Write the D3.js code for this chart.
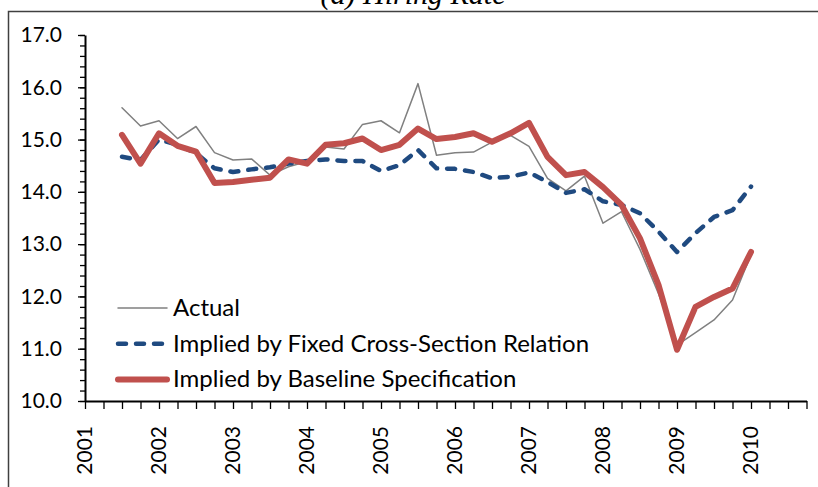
<!DOCTYPE html>
<html>
<head>
<meta charset="utf-8">
<script src="https://cdn.jsdelivr.net/npm/d3@7"></script>
<style>
  body { margin: 0; background: #fff; }
  svg { display: block; }
  .tick text { font-family: Lato, sans-serif; }
</style>
</head>
<body>
<script>
// Hiring rate: actual vs. implied series, quarterly 2001-2010

var years = [2001, 2002, 2003, 2004, 2005, 2006, 2007, 2008, 2009, 2010];
var quarterNames = ["Q1", "Q2", "Q3", "Q4"];
var yTicks = [10.0, 11.0, 12.0, 13.0, 14.0, 15.0, 16.0, 17.0];
var seriesNames = ["Actual", "Implied by Fixed Cross-Section Relation", "Implied by Baseline Specification"];

// first observation is 2001Q3, last is 2010Q1
var firstQuarter = "2001Q3";

var actual = [15.61, 15.26, 15.36, 15.02, 15.25, 14.75, 14.61, 14.63, 14.32, 14.48,
              14.58, 14.86, 14.82, 15.29, 15.36, 15.13, 16.07, 14.70, 14.75, 14.76,
              14.95, 15.08, 14.87, 14.26, 14.02, 14.30, 13.40, 13.62, 12.90, 12.05,
              11.07, 11.31, 11.55, 11.93, 12.80];

var fixedCross = [14.67, 14.61, 15.00, 14.90, 14.74, 14.45, 14.38, 14.43, 14.47, 14.54,
                  14.59, 14.62, 14.59, 14.59, 14.40, 14.51, 14.80, 14.45, 14.44, 14.38,
                  14.26, 14.29, 14.37, 14.19, 13.98, 14.05, 13.82, 13.75, 13.59, 13.24,
                  12.85, 13.21, 13.52, 13.65, 14.10];

var baseline = [15.09, 14.54, 15.12, 14.88, 14.77, 14.17, 14.19, 14.23, 14.27, 14.62,
                14.54, 14.90, 14.93, 15.02, 14.80, 14.90, 15.21, 15.01, 15.05, 15.12,
                14.96, 15.12, 15.32, 14.67, 14.32, 14.38, 14.09, 13.75, 13.11, 12.22,
                10.98, 11.80, 11.99, 12.15, 12.85];

// all quarters on the category axis
var quarters = [];
years.forEach(function(y) {
  quarterNames.forEach(function(q) { quarters.push(y + q); });
});

function toPoints(values) {
  var start = quarters.indexOf(firstQuarter);
  return values.map(function(v, i) { return {q: quarters[start + i], v: v}; });
}

window.onload = function() {
  var width = 818;
  var height = 487;

  var svg = d3.select("body").append("svg")
      .attr("width", width)
      .attr("height", height);

  // chart border, runs off the picture on the right and bottom
  svg.append("rect")
      .attr("x", 8.5)
      .attr("y", 11.5)
      .attr("width", 840)
      .attr("height", 600)
      .attr("fill", "none")
      .attr("stroke", "#404040")
      .attr("stroke-width", 1.5);

  // title, mostly cut off at the top (as in the source picture)
  svg.append("text")
      .attr("x", 413)
      .attr("y", 4)
      .attr("text-anchor", "middle")
      .style("font-family", "'Liberation Serif', serif")
      .style("font-style", "italic")
      .style("font-size", "30px")
      .text("(a) Hiring Rate");

  var xScale = d3.scalePoint()
      .domain(quarters)
      .range([85, 806.5]);

  var yScale = d3.scaleLinear()
      .domain([10, 17])
      .range([401, 35]);

  // minor y ticks every 0.2
  var minorTicks = d3.range(10, 17.01, 0.2);
  svg.append("g")
      .attr("transform", "translate(85, 0)")
      .call(d3.axisLeft(yScale).tickValues(minorTicks).tickSize(5).tickFormat(""))
      .call(function(g) { g.select(".domain").remove(); })
      .selectAll("line").attr("stroke", "#000").attr("stroke-width", 1.3);

  // major y axis
  var yAxis = svg.append("g")
      .attr("transform", "translate(85, 0)")
      .call(d3.axisLeft(yScale).tickValues(yTicks).tickSize(7).tickSizeOuter(0)
            .tickPadding(16).tickFormat(d3.format(".1f")));
  yAxis.select(".domain").attr("stroke-width", 2);
  yAxis.selectAll("line").attr("stroke-width", 1.3);
  yAxis.selectAll("text")
      .style("font-size", "21px")
      .attr("fill", "#000");

  // x axis with a tick per quarter
  var xAxis = svg.append("g")
      .attr("transform", "translate(0, 401)")
      .call(d3.axisBottom(xScale).tickSize(8).tickSizeOuter(0).tickFormat(""));
  xAxis.select(".domain").attr("stroke-width", 2);
  xAxis.selectAll("line").attr("stroke-width", 1.3);

  // year labels, rotated
  svg.selectAll(".yearLabel")
      .data(years)
      .enter()
      .append("text")
      .attr("class", "yearLabel")
      .attr("transform", function(d) {
        return "translate(" + xScale(d + "Q1") + ", 426) rotate(-90)";
      })
      .attr("text-anchor", "end")
      .attr("dy", "0.35em")
      .style("font-family", "Lato, sans-serif")
      .style("font-size", "21px")
      .text(function(d) { return d; });

  var line = d3.line()
      .x(function(d) { return xScale(d.q); })
      .y(function(d) { return yScale(d.v); });

  var styles = [
    {color: "#808080", width: 1.5, dash: null},
    {color: "#1f4a80", width: 4.5, dash: "8,10"},
    {color: "#c0504d", width: 6, dash: null}
  ];
  var series = [actual, fixedCross, baseline];

  series.forEach(function(values, i) {
    svg.append("path")
        .datum(toPoints(values))
        .attr("d", line)
        .attr("fill", "none")
        .attr("stroke", styles[i].color)
        .attr("stroke-width", styles[i].width)
        .attr("stroke-dasharray", styles[i].dash)
        .attr("stroke-linejoin", "round")
        .attr("stroke-linecap", "round");
  });

  // legend
  var legend = svg.selectAll(".legend")
      .data(seriesNames)
      .enter()
      .append("g")
      .attr("class", "legend")
      .attr("transform", function(d, i) {
        return "translate(118," + (308 + i * 35.7) + ")";
      });

  legend.append("line")
      .attr("x1", 0)
      .attr("x2", 49)
      .attr("stroke", function(d, i) { return styles[i].color; })
      .attr("stroke-width", function(d, i) { return styles[i].width; })
      .attr("stroke-dasharray", function(d, i) { return styles[i].dash; })
      .attr("stroke-linecap", "round");

  legend.append("text")
      .attr("x", 55)
      .attr("y", 8)
      .style("font-family", "Lato, sans-serif")
      .style("font-size", "24px")
      .text(function(d) { return d; });
};
</script>
</body>
</html>
